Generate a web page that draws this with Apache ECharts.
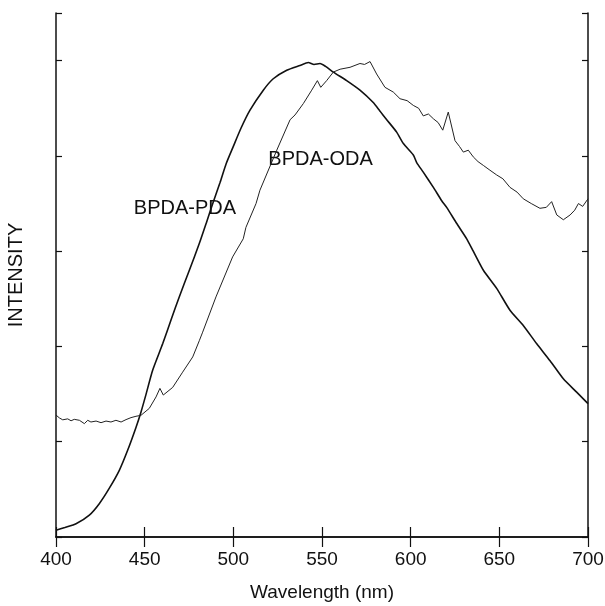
<!DOCTYPE html>
<html>
<head>
<meta charset="utf-8">
<script src="https://cdn.jsdelivr.net/npm/echarts@6/dist/echarts.min.js"></script>
<style>
  html, body { margin: 0; padding: 0; background: #fff; }
  #chart { width: 605px; height: 606px; }
</style>
</head>
<body>
<div id="chart"></div>
<script>
// wavelength (nm) / intensity (arb. units)
const pdaWavelength = [400, 405, 411.3, 418.8, 424.4, 430, 435.7, 440.4, 445.1, 447.9, 450.8, 454.5, 460.2, 464.9, 469.5, 475.2, 480.8, 485, 488.4, 492.5, 496, 500, 504.3, 509.4, 516.9, 522.5, 530.1, 537.6, 542.3, 545.5, 548.9, 552, 556.4, 563.9, 571.4, 578.9, 582.7, 586.5, 592.1, 595.9, 601.5, 603.4, 607.1, 612.8, 617.5, 620.3, 626, 631.6, 635.3, 641, 648.5, 656, 663.5, 671, 678.6, 686.1, 693.6, 700]
const pdaIntensity = [0.07, 0.10, 0.14, 0.23, 0.35, 0.51, 0.70, 0.91, 1.15, 1.31, 1.50, 1.75, 2.03, 2.28, 2.52, 2.80, 3.08, 3.31, 3.50, 3.72, 3.92, 4.10, 4.29, 4.48, 4.69, 4.81, 4.90, 4.95, 4.98, 4.96, 4.97, 4.94, 4.88, 4.79, 4.69, 4.56, 4.47, 4.38, 4.25, 4.13, 4.01, 3.93, 3.83, 3.67, 3.53, 3.46, 3.29, 3.13, 3.00, 2.80, 2.61, 2.38, 2.22, 2.03, 1.85, 1.66, 1.52, 1.40]

const odaWavelength = [400, 401.9, 403.8, 406.6, 408.5, 410.3, 413.2, 416, 417.9, 419.7, 422.6, 425.4, 428.2, 431, 433.8, 436.7, 439.5, 442.3, 445.1, 447.9, 452.6, 456.4, 458.6, 460.5, 465.8, 471.4, 477.1, 480.8, 482.7, 490.2, 499.6, 505.6, 507.1, 512.8, 515, 524.5, 532, 534.8, 539.5, 544.2, 547.4, 549.3, 552.6, 556.4, 560.2, 565.8, 571.4, 574, 577.1, 580.8, 585.5, 590.2, 594, 598, 601.5, 604.5, 607.1, 610, 612.8, 615.5, 618.1, 621.2, 625, 627.5, 629.7, 632.5, 635.3, 638, 641, 644.7, 648.5, 652, 656, 660, 663.5, 668, 672.9, 676.5, 679.5, 682.4, 686.1, 689.9, 692.5, 694.6, 697, 700]
const odaIntensity = [1.28, 1.25, 1.23, 1.24, 1.22, 1.235, 1.225, 1.19, 1.225, 1.207, 1.217, 1.20, 1.217, 1.207, 1.225, 1.207, 1.232, 1.253, 1.267, 1.277, 1.35, 1.47, 1.56, 1.49, 1.57, 1.73, 1.89, 2.06, 2.15, 2.52, 2.94, 3.13, 3.25, 3.50, 3.64, 4.06, 4.38, 4.43, 4.55, 4.69, 4.79, 4.72, 4.79, 4.88, 4.91, 4.93, 4.97, 4.96, 4.99, 4.86, 4.72, 4.67, 4.60, 4.58, 4.53, 4.50, 4.42, 4.44, 4.39, 4.35, 4.27, 4.46, 4.16, 4.10, 4.04, 4.06, 3.99, 3.94, 3.90, 3.85, 3.80, 3.76, 3.67, 3.62, 3.55, 3.50, 3.45, 3.46, 3.52, 3.38, 3.33, 3.38, 3.43, 3.50, 3.47, 3.55]

const xTicks = { min: 400, max: 700, interval: 50 }
const yTicks = { min: 0, max: 5.5, interval: 1 }

// curve labels placed in data space: [wavelength, intensity, text]
const curveLabels = [
  [472.7, 3.45, 'BPDA-PDA'],
  [549.2, 3.96, 'BPDA-ODA']
]

const font = "'Liberation Sans', Arial, sans-serif"
const ink = '#111'

const chart = echarts.init(document.getElementById('chart'), null, { renderer: 'canvas' })

const boxAxisLine = { show: true, lineStyle: { color: ink, width: 1.5 } }

chart.setOption({
  backgroundColor: '#fff',
  animation: false,
  grid: { left: 56, right: 17, top: 13, bottom: 69, containLabel: false, outerBoundsMode: 'none' },
  xAxis: [
    {
      type: 'value',
      position: 'bottom',
      min: xTicks.min,
      max: xTicks.max,
      interval: xTicks.interval,
      name: 'Wavelength (nm)',
      nameLocation: 'middle',
      nameGap: 46,
      nameTextStyle: { color: ink, fontSize: 19, fontFamily: font },
      axisLine: boxAxisLine,
      axisTick: { show: true, inside: true, length: 10, lineStyle: { color: ink, width: 1.2 } },
      axisLabel: { color: ink, fontSize: 19, fontFamily: font, margin: 13 },
      splitLine: { show: false }
    },
    {
      type: 'value',
      position: 'top',
      min: xTicks.min,
      max: xTicks.max,
      interval: xTicks.interval,
      axisLine: boxAxisLine,
      axisTick: { show: true, inside: true, length: 10, lineStyle: { color: ink, width: 1.2 } },
      axisLabel: { show: false },
      splitLine: { show: false }
    }
  ],
  yAxis: [
    {
      type: 'value',
      position: 'left',
      min: yTicks.min,
      max: yTicks.max,
      interval: yTicks.interval,
      name: 'INTENSITY',
      nameLocation: 'middle',
      nameGap: 30,
      nameTextStyle: { color: ink, fontSize: 20, fontFamily: font },
      axisLine: boxAxisLine,
      axisTick: { show: true, inside: true, length: 6, lineStyle: { color: ink, width: 1.2 } },
      axisLabel: { show: false },
      splitLine: { show: false }
    },
    {
      type: 'value',
      position: 'right',
      min: yTicks.min,
      max: yTicks.max,
      interval: yTicks.interval,
      axisLine: boxAxisLine,
      axisTick: { show: true, inside: true, length: 6, lineStyle: { color: ink, width: 1.2 } },
      axisLabel: { show: false },
      splitLine: { show: false }
    }
  ],
  series: [
    {
      name: 'BPDA-PDA',
      type: 'line',
      showSymbol: false,
      smooth: 0.2,
      lineStyle: { color: ink, width: 1.6 },
      data: pdaWavelength.map((w, i) => [w, pdaIntensity[i]])
    },
    {
      name: 'BPDA-ODA',
      type: 'line',
      showSymbol: false,
      lineStyle: { color: '#222', width: 1 },
      data: odaWavelength.map((w, i) => [w, odaIntensity[i]])
    },
    {
      name: 'labels',
      type: 'scatter',
      symbolSize: 0,
      silent: true,
      itemStyle: { opacity: 1 },
      label: {
        show: true,
        position: 'inside',
        color: ink,
        fontSize: 20,
        fontFamily: font,
        formatter: p => p.value[2]
      },
      data: curveLabels
    }
  ]
})
</script>
</body>
</html>
